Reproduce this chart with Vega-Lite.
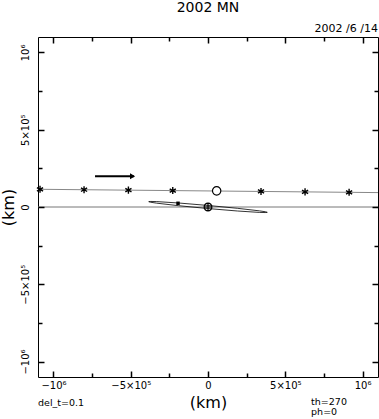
{
  "$schema": "https://vega.github.io/schema/vega-lite/v6.json",
  "width": 340,
  "height": 340,
  "autosize": "none",
  "padding": {"left": 38, "top": 37, "right": 1, "bottom": 42},
  "background": "white",
  "config": {
    "view": {"stroke": "black", "strokeWidth": 1},
    "font": "DejaVu Sans",
    "axis": {"grid": false, "labelColor": "black", "titleColor": "black", "labelFont": "DejaVu Sans", "titleFont": "DejaVu Sans", "titleFontWeight": "normal"}
  },
  "datasets": {
    "track": [
      {"x": -1100000, "y": 114700},
      {"x": 1100000, "y": 93200}
    ],
    "stars": [
      {"x": -1087000, "y": 114600},
      {"x": -802000, "y": 111800},
      {"x": -515000, "y": 109000},
      {"x": -228000, "y": 106200},
      {"x": 343000, "y": 100600},
      {"x": 628000, "y": 97800},
      {"x": 913000, "y": 95000}
    ],
    "ellipse": [
      {"i": 0, "x": 383500, "y": -34500},
      {"i": 1, "x": 370700, "y": -30700},
      {"i": 2, "x": 332600, "y": -24900},
      {"i": 3, "x": 192500, "y": -8600},
      {"i": 4, "x": 900, "y": 10000},
      {"i": 5, "x": -191000, "y": 25900},
      {"i": 6, "x": -331700, "y": 34900},
      {"i": 7, "x": -370200, "y": 35900},
      {"i": 8, "x": -383500, "y": 34500},
      {"i": 9, "x": -370700, "y": 30700},
      {"i": 10, "x": -332600, "y": 24900},
      {"i": 11, "x": -192500, "y": 8600},
      {"i": 12, "x": -900, "y": -10000},
      {"i": 13, "x": 191000, "y": -25900},
      {"i": 14, "x": 331700, "y": -34900},
      {"i": 15, "x": 370200, "y": -35900},
      {"i": 16, "x": 383500, "y": -34500}
    ],
    "arrow": [
      {"x": -731000, "y": 199000},
      {"x": -480000, "y": 199000}
    ],
    "leftLabels": [
      {"x": -1100000, "y": -1288000, "t": "del_t=0.1"},
      {"x": 667000, "y": -1280000, "t": "th=270"},
      {"x": 667000, "y": -1345000, "t": "ph=0"}
    ]
  },
  "resolve": {"axis": {"x": "independent", "y": "independent"}},
  "layer": [
    {
      "data": {"name": "track"},
      "mark": {"type": "line", "color": "#888888", "strokeWidth": 1},
      "encoding": {
        "x": {"field": "x", "type": "quantitative", "scale": {"domain": [-1100000, 1100000], "nice": false, "zero": false},
          "axis": {"orient": "bottom", "title": "(km)", "titleFontSize": 16, "titlePadding": 4, "offset": -6, "domain": false, "ticks": true, "tickColor": "black", "tickWidth": 1.5, "zindex": 2,
            "values": [-1000000, -500000, 0, 500000, 1000000],
            "labelExpr": "datum.value == 1000000 ? '10⁶' : datum.value == -1000000 ? '−10⁶' : datum.value == 500000 ? '5×10⁵' : datum.value == -500000 ? '−5×10⁵' : '0'",
            "labelFontSize": 10, "labelPadding": 3, "labelBaseline": "top", "tickSize": 6}},
        "y": {"field": "y", "type": "quantitative", "scale": {"domain": [-1100000, 1100000], "nice": false, "zero": false},
          "axis": {"orient": "left", "title": "(km)", "titleFontSize": 16, "titlePadding": 4, "offset": -6, "domain": false, "ticks": true, "tickColor": "black", "tickWidth": 1.5, "zindex": 2,
            "values": [-1000000, -500000, 0, 500000, 1000000],
            "labelExpr": "datum.value == 1000000 ? '10⁶' : datum.value == -1000000 ? '−10⁶' : datum.value == 500000 ? '5×10⁵' : datum.value == -500000 ? '−5×10⁵' : '0'",
            "labelFontSize": 10, "labelPadding": 8, "labelAngle": -90, "labelAlign": "center", "labelBaseline": "bottom", "tickSize": 6}}
      }
    },
    {
      "data": {"values": [{"y": 0}]},
      "mark": {"type": "rule", "color": "#777777", "strokeWidth": 1},
      "encoding": {
        "y": {"field": "y", "type": "quantitative", "scale": {"domain": [-1100000, 1100000], "nice": false, "zero": false},
          "axis": {"orient": "right", "title": null, "labels": false, "offset": -6, "domain": false, "ticks": true, "tickColor": "black", "tickWidth": 1.5, "zindex": 2,
            "values": [-1000000, -500000, 0, 500000, 1000000], "tickSize": 6}}
      }
    },
    {
      "data": {"name": "ellipse"},
      "mark": {"type": "line", "color": "black", "strokeWidth": 0.8},
      "encoding": {
        "x": {"field": "x", "type": "quantitative", "scale": {"domain": [-1100000, 1100000], "nice": false, "zero": false},
          "axis": {"orient": "top", "title": null, "labels": false, "offset": -6, "domain": false, "ticks": true, "tickColor": "black", "tickWidth": 1.5, "zindex": 2,
            "values": [-1000000, -500000, 0, 500000, 1000000], "tickSize": 6}},
        "y": {"field": "y", "type": "quantitative", "scale": {"domain": [-1100000, 1100000], "nice": false, "zero": false}, "axis": null},
        "order": {"field": "i", "type": "quantitative"}
      }
    },
    {
      "data": {"name": "stars"},
      "mark": {"type": "point", "shape": "M0,-1L0,1M-0.87,-0.5L0.87,0.5M-0.87,0.5L0.87,-0.5", "filled": false, "stroke": "black", "strokeWidth": 1.4, "size": 50, "opacity": 1},
      "encoding": {
        "x": {"field": "x", "type": "quantitative", "scale": {"domain": [-1100000, 1100000], "nice": false, "zero": false},
          "axis": {"orient": "bottom", "title": null, "labels": false, "offset": -4, "domain": false, "ticks": true, "tickColor": "black", "tickWidth": 1.5, "zindex": 2, "values": [-750000, -250000, 250000, 750000], "tickSize": 4}},
        "y": {"field": "y", "type": "quantitative", "scale": {"domain": [-1100000, 1100000], "nice": false, "zero": false},
          "axis": {"orient": "left", "title": null, "labels": false, "offset": -4, "domain": false, "ticks": true, "tickColor": "black", "tickWidth": 1.5, "zindex": 2, "values": [-750000, -250000, 250000, 750000], "tickSize": 4}}
      }
    },
    {
      "data": {"values": [{"x": 56000, "y": 104500}]},
      "mark": {"type": "point", "shape": "circle", "filled": false, "stroke": "black", "strokeWidth": 1.2, "size": 70, "opacity": 1, "fill": "white"},
      "encoding": {
        "x": {"field": "x", "type": "quantitative", "scale": {"domain": [-1100000, 1100000], "nice": false, "zero": false},
          "axis": {"orient": "top", "title": null, "labels": false, "offset": -4, "domain": false, "ticks": true, "tickColor": "black", "tickWidth": 1.5, "zindex": 2, "values": [-750000, -250000, 250000, 750000], "tickSize": 4}},
        "y": {"field": "y", "type": "quantitative", "scale": {"domain": [-1100000, 1100000], "nice": false, "zero": false},
          "axis": {"orient": "right", "title": null, "labels": false, "offset": -4, "domain": false, "ticks": true, "tickColor": "black", "tickWidth": 1.5, "zindex": 2, "values": [-750000, -250000, 250000, 750000], "tickSize": 4}}
      }
    },
    {
      "data": {"values": [{"x": 0, "y": 0}]},
      "mark": {"type": "point", "shape": "M-1,0A1,1 0 1,0 1,0A1,1 0 1,0 -1,0ZM-1,0L1,0M0,-1L0,1", "filled": false, "stroke": "black", "strokeWidth": 1.2, "size": 60, "opacity": 1},
      "encoding": {
        "x": {"field": "x", "type": "quantitative", "scale": {"domain": [-1100000, 1100000], "nice": false, "zero": false}, "axis": null},
        "y": {"field": "y", "type": "quantitative", "scale": {"domain": [-1100000, 1100000], "nice": false, "zero": false}, "axis": null}
      }
    },
    {
      "data": {"values": [{"x": -194000, "y": 24000}]},
      "mark": {"type": "square", "color": "black", "size": 12, "opacity": 1},
      "encoding": {
        "x": {"field": "x", "type": "quantitative", "scale": {"domain": [-1100000, 1100000], "nice": false, "zero": false}, "axis": null},
        "y": {"field": "y", "type": "quantitative", "scale": {"domain": [-1100000, 1100000], "nice": false, "zero": false}, "axis": null}
      }
    },
    {
      "data": {"name": "arrow"},
      "mark": {"type": "line", "color": "black", "strokeWidth": 2},
      "encoding": {
        "x": {"field": "x", "type": "quantitative", "scale": {"domain": [-1100000, 1100000], "nice": false, "zero": false}, "axis": null},
        "y": {"field": "y", "type": "quantitative", "scale": {"domain": [-1100000, 1100000], "nice": false, "zero": false}, "axis": null}
      }
    },
    {
      "data": {"values": [{"x": -488000, "y": 199000}]},
      "mark": {"type": "point", "shape": "triangle-right", "filled": true, "color": "black", "size": 35, "opacity": 1},
      "encoding": {
        "x": {"field": "x", "type": "quantitative", "scale": {"domain": [-1100000, 1100000], "nice": false, "zero": false}, "axis": null},
        "y": {"field": "y", "type": "quantitative", "scale": {"domain": [-1100000, 1100000], "nice": false, "zero": false}, "axis": null}
      }
    },
    {
      "data": {"name": "leftLabels"},
      "mark": {"type": "text", "fontSize": 9.5, "font": "DejaVu Sans", "color": "black", "baseline": "alphabetic", "align": "left"},
      "encoding": {
        "x": {"field": "x", "type": "quantitative", "scale": {"domain": [-1100000, 1100000], "nice": false, "zero": false}, "axis": null},
        "y": {"field": "y", "type": "quantitative", "scale": {"domain": [-1100000, 1100000], "nice": false, "zero": false}, "axis": null},
        "text": {"field": "t"}
      }
    },
    {
      "data": {"values": [{"x": 1100000, "y": 1133000, "t": "2002 /6 /14"}]},
      "mark": {"type": "text", "fontSize": 11, "font": "DejaVu Sans", "color": "black", "baseline": "alphabetic", "align": "right"},
      "encoding": {
        "x": {"field": "x", "type": "quantitative", "scale": {"domain": [-1100000, 1100000], "nice": false, "zero": false}, "axis": null},
        "y": {"field": "y", "type": "quantitative", "scale": {"domain": [-1100000, 1100000], "nice": false, "zero": false}, "axis": null},
        "text": {"field": "t"}
      }
    },
    {
      "data": {"values": [{"x": 0, "y": 1262000, "t": "2002 MN"}]},
      "mark": {"type": "text", "fontSize": 14, "font": "DejaVu Sans", "color": "black", "baseline": "alphabetic", "align": "center"},
      "encoding": {
        "x": {"field": "x", "type": "quantitative", "scale": {"domain": [-1100000, 1100000], "nice": false, "zero": false}, "axis": null},
        "y": {"field": "y", "type": "quantitative", "scale": {"domain": [-1100000, 1100000], "nice": false, "zero": false}, "axis": null},
        "text": {"field": "t"}
      }
    }
  ]
}
